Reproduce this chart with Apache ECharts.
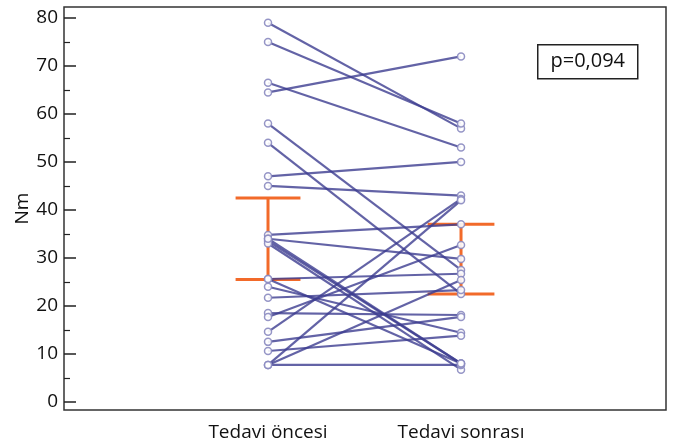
<!DOCTYPE html>
<html>
<head>
<meta charset="utf-8">
<script src="https://cdn.jsdelivr.net/npm/echarts@6/dist/echarts.min.js"></script>
<style>
  html, body { margin: 0; padding: 0; background: #fff; }
  #chart { width: 676px; height: 446px; }
</style>
</head>
<body>
<div id="chart"></div>
<script>
  // grup etiketleri
  const groups = ['Tedavi öncesi', 'Tedavi sonrası'];

  // her hasta için tedavi öncesi / sonrası değerleri (Nm)
  const before = [79, 75, 66.5, 64.5, 58, 54, 47, 45, 34.8, 34, 33.5, 33, 25.6, 24, 21.7, 18.5, 17.7, 14.6, 12.5, 10.6, 7.7, 7.7, 7.7, 34, 25.6];
  const after = [57, 58, 53, 72, 27.5, 22.5, 50, 43, 37, 29.8, 8, 6.7, 26.7, 14.4, 23.3, 18.1, 32.7, 42.3, 17.7, 13.8, 7.7, 25.4, 42, 8, 8];

  // hata çubukları (alt, üst)
  const barLow = [25.5, 22.5];
  const barHigh = [42.5, 37];

  const yTicks = [0, 10, 20, 30, 40, 50, 60, 70, 80];
  const yMinorTicks = [5, 15, 25, 35, 45, 55, 65, 75];
  const pText = 'p=0,094';

  const chart = echarts.init(document.getElementById('chart'));

  const font = "'Open Sans', 'DejaVu Sans', sans-serif";
  const orange = '#f26a2a';

  const pairSeries = before.map((b, i) => ({
    type: 'line',
    data: [[1, b], [2, after[i]]],
    symbol: 'circle',
    symbolSize: 7,
    showSymbol: true,
    itemStyle: { color: '#ffffff', borderColor: '#8a8ac0', borderWidth: 1.5, opacity: 0.9 },
    lineStyle: { color: '#3c3c90', width: 2.2, opacity: 0.8 },
    z: 3,
    silent: true,
    animation: false,
  }));

  const capHalf = [0.168, 0.173];
  const errSeries = [];
  [0, 1].forEach((g) => {
    const x = g + 1;
    const segs = [
      [[x, barLow[g]], [x, barHigh[g]]],
      [[x - capHalf[g], barHigh[g]], [x + capHalf[g], barHigh[g]]],
      [[x - capHalf[g], barLow[g]], [x + capHalf[g], barLow[g]]],
    ];
    segs.forEach((d) => {
      errSeries.push({
        type: 'line',
        data: d,
        symbol: 'none',
        lineStyle: { color: orange, width: 3 },
        z: 2,
        silent: true,
        animation: false,
      });
    });
  });

  const option = {
    backgroundColor: '#fff',
    grid: {
      left: 64,
      right: 10,
      top: 7,
      bottom: 36,
      show: true,
      borderColor: '#333',
      borderWidth: 1.5,
    },
    xAxis: {
      type: 'value',
      min: -0.057,
      max: 3.062,
      axisLine: { show: false, onZero: false },
      axisTick: { show: false },
      splitLine: { show: false },
      axisLabel: {
        customValues: [1, 2],
        formatter: (v) => groups[Math.round(v) - 1] || '',
        color: '#111',
        fontSize: 19,
        fontFamily: font,
        margin: 13,
      },
    },
    yAxis: [
      {
        type: 'value',
        position: 'left',
        min: -1.7,
        max: 82.3,
        name: 'Nm',
        nameLocation: 'middle',
        nameGap: 32,
        nameMoveOverlap: false,
        nameTextStyle: { color: '#111', fontSize: 19, fontFamily: font },
        axisLine: { show: false, onZero: false },
        splitLine: { show: false },
        axisTick: {
          customValues: yTicks,
          inside: true,
          length: 12,
          lineStyle: { color: '#222', width: 1.5 },
        },
        axisLabel: {
          customValues: yTicks,
          color: '#111',
          fontSize: 19,
          fontFamily: font,
          margin: 6,
        },
      },
      {
        type: 'value',
        position: 'left',
        min: -1.7,
        max: 82.3,
        axisLine: { show: false, onZero: false },
        splitLine: { show: false },
        axisLabel: { show: false },
        axisTick: {
          customValues: yMinorTicks,
          inside: true,
          length: 6,
          lineStyle: { color: '#222', width: 1.2 },
        },
      },
    ],
    series: [...errSeries, ...pairSeries],
    graphic: [
      {
        type: 'group',
        left: 537,
        top: 44,
        children: [
          {
            type: 'rect',
            shape: { x: 0, y: 0, width: 100, height: 34 },
            style: { fill: '#fff', stroke: '#222', lineWidth: 1.5 },
          },
          {
            type: 'text',
            x: 50,
            y: 17,
            style: {
              text: pText,
              fill: '#111',
              font: "20px 'Open Sans', sans-serif",
              align: 'center',
              verticalAlign: 'middle',
            },
          },
        ],
      },
    ],
  };

  chart.setOption(option);
</script>
</body>
</html>
